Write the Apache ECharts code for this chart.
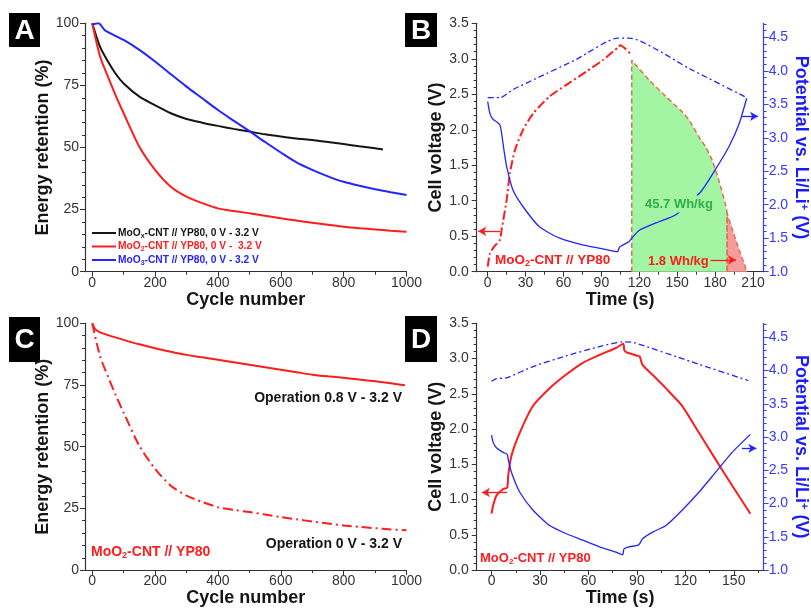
<!DOCTYPE html>
<html>
<head>
<meta charset="utf-8">
<script src="https://cdn.jsdelivr.net/npm/echarts@6/dist/echarts.min.js"></script>
<style>
  html, body { margin: 0; padding: 0; background: #fff; }
  #chart { width: 811px; height: 608px; }
</style>
</head>
<body>
<div id="chart"></div>
<script>
// ---------- Panel A: energy retention vs. cycle number ----------
const cyclesMoOx = [0, 25, 50, 75, 100, 150, 200, 250, 300, 350, 400, 450, 500, 550, 600, 650, 700, 750, 800, 850, 900, 925];
const retMoOx    = [100, 90.5, 84.6, 79.6, 75.8, 70.5, 67, 63.8, 61.5, 60, 58.7, 57.5, 56.4, 55.3, 54.4, 53.6, 53, 52.2, 51.4, 50.5, 49.7, 49.2];

const cyclesMoO2 = [0, 25, 50, 75, 100, 150, 200, 250, 300, 350, 400, 450, 500, 550, 600, 650, 700, 750, 800, 850, 900, 950, 1000];
const retMoO2    = [100, 86.6, 78.5, 70.8, 63.8, 50.3, 41, 34.2, 30.2, 27.6, 25.5, 24.4, 23.5, 22.5, 21.5, 20.6, 19.7, 18.9, 18.1, 17.5, 17, 16.5, 16.1];

const cyclesMoO3 = [0, 20, 40, 60, 100, 150, 200, 250, 300, 350, 400, 450, 500, 550, 600, 650, 700, 750, 800, 850, 900, 950, 1000];
const retMoO3    = [99.5, 100, 97.2, 95.8, 93.3, 89.3, 84.6, 79.5, 74.5, 69.8, 65.1, 60.8, 56.6, 52.2, 48, 44, 41, 38.4, 36.2, 34.6, 33.2, 32, 30.9];

// ---------- Panel C: MoO2-CNT // YP80 at two voltage windows ----------
const cyclesWide = [0, 10, 25, 50, 100, 150, 200, 250, 300, 350, 400, 450, 500, 550, 600, 650, 700, 750, 800, 850, 900, 950, 995];
const retWide    = [100, 97.5, 96.3, 95.2, 93.3, 91.5, 89.9, 88.5, 87.2, 86.2, 85.2, 84.2, 83.2, 82.2, 81.2, 80.2, 79.2, 78.5, 77.9, 77.2, 76.5, 75.7, 74.9];
const cyclesFull = cyclesMoO2;
const retFull    = retMoO2;

// ---------- Panel B: 0 V - 3.2 V cycle, [time s, volts] ----------
const cellChargeB = [[0, 0.07], [1.8, 0.26], [5, 0.35], [9.7, 0.45], [11, 0.59], [15, 1.01], [17.6, 1.39], [21.5, 1.71],
  [28, 2.0], [36, 2.23], [49, 2.47], [62, 2.63], [78, 2.82], [91, 2.98], [103.7, 3.17], [105, 3.19], [114, 3.05]];
const cellDischargeHighB = [[114, 0], [114, 2.98], [127.8, 2.70], [140.9, 2.47], [154.1, 2.25], [159.3, 2.14],
  [167.2, 1.90], [172.4, 1.76], [177.7, 1.57], [182.9, 1.29], [189.5, 0.82], [189.5, 0]];
const cellDischargeLowB = [[189.5, 0], [189.5, 0.82], [197, 0.41], [205.2, 0]];
const positiveB = [[0, 3.60], [10, 3.60], [20, 3.72], [40, 3.90], [70, 4.17], [103, 4.49], [112, 4.49], [160, 4.03], [205, 3.60]];
const negativeB = [[0, 3.54], [1.8, 3.36], [4, 3.28], [7, 3.24], [9.7, 3.19], [11, 3.07], [13, 2.80], [15, 2.57], [20, 2.22],
  [28, 1.97], [41, 1.67], [57, 1.50], [75, 1.40], [94, 1.33], [103, 1.30], [103.5, 1.30], [104.5, 1.37], [112, 1.45],
  [114, 1.50], [120, 1.62], [136, 1.75], [149, 1.85], [168.5, 2.19], [180, 2.52], [191, 2.87], [199, 3.21], [205, 3.59]];
const energyHigh = '45.7 Wh/kg';
const energyLow  = '1.8 Wh/kg';

// ---------- Panel D: 0.8 V - 3.2 V cycle, [time s, volts] ----------
const cellD = [[0, 0.80], [1, 0.92], [3.1, 1.06], [7.2, 1.15], [9.7, 1.17], [10.3, 1.34], [12.3, 1.62], [17.5, 1.95],
  [25.7, 2.33], [36, 2.58], [46, 2.77], [56.5, 2.94], [66.8, 3.05], [77, 3.15], [81.6, 3.21], [82.2, 3.12], [83.5, 3.09],
  [90.4, 3.04], [91.8, 3.03], [93.5, 2.91], [99.7, 2.77], [107.9, 2.58], [118, 2.33], [128.4, 1.95], [138.7, 1.57],
  [149, 1.20], [160.3, 0.80]];
const positiveD = [[0, 3.84], [3.1, 3.88], [9.2, 3.89], [25.7, 4.06], [46, 4.22], [66.8, 4.36], [81, 4.43], [88, 4.42],
  [124, 4.13], [159, 3.85]];
const negativeD = [[0, 3.03], [1, 2.92], [3, 2.84], [7.2, 2.77], [9.7, 2.74], [10.3, 2.67], [12.3, 2.47], [17.5, 2.17],
  [25.7, 1.90], [36, 1.67], [46, 1.55], [56.5, 1.45], [66.8, 1.35], [77, 1.27], [81.2, 1.23], [82, 1.32], [85.2, 1.35],
  [90.4, 1.37], [91.8, 1.40], [93.5, 1.47], [99.7, 1.57], [108, 1.67], [118, 1.90], [128.4, 2.17], [138.7, 2.47],
  [149, 2.77], [160.3, 3.04]];

// ---------- tick labels ----------
const ticksCycle = [0, 200, 400, 600, 800, 1000];
const ticksRet   = [0, 25, 50, 75, 100];
const ticksTimeB = [0, 30, 60, 90, 120, 150, 180, 210];
const ticksTimeD = [0, 30, 60, 90, 120, 150];
const ticksCell  = [0, 0.5, 1, 1.5, 2, 2.5, 3, 3.5];
const ticksPot   = [1, 1.5, 2, 2.5, 3, 3.5, 4, 4.5];

// ---------- styling ----------
const FONT = 'Liberation Sans';
const RED = '#ff1c1c', BLUE = '#2424ff', BLACK = '#151515', AXIS = '#333333', AXIS_BLUE = '#3838ff';
const GREEN_FILL = '#a3f5a3', RED_FILL = '#f59c9c', EDGE = '#e0704c', GREEN_TEXT = '#2fae4c';
const DASHDOT = [9, 3, 2, 3];
const DASHDOT_THIN = [6, 3, 2, 3];

const pairs = (xs, ys) => xs.map((x, i) => [x, ys[i]]);
const nameStyle = (color) => ({ fontSize: 18, fontWeight: 'bold', fontFamily: FONT, color: color });
const plain = (v) => String(v);
const fmt1 = (v) => v.toFixed(1);

function xAxisCfg(gridIndex, min, max, step, ticks, minorSplit, name) {
  return {
    type: 'value', gridIndex, min, max,
    splitNumber: Math.round((max - min) / step), minInterval: step, maxInterval: step,
    name, nameLocation: 'middle', nameGap: 15, nameTextStyle: nameStyle(BLACK),
    axisLine: { show: true, onZero: false, lineStyle: { color: AXIS, width: 1.2 } },
    axisTick: { show: true, length: 5, customValues: ticks, lineStyle: { color: AXIS, width: 1 } },
    minorTick: { show: true, splitNumber: minorSplit, length: 3, lineStyle: { color: AXIS, width: 1 } },
    axisLabel: { customValues: ticks, margin: 4, fontSize: 14, color: '#333', fontFamily: FONT, formatter: plain },
    splitLine: { show: false }
  };
}

function yAxisCfg(gridIndex, min, max, step, ticks, minorSplit, name, opts) {
  const o = opts || {};
  const col = o.color || AXIS;
  return {
    type: 'value', gridIndex, min, max, interval: step, position: o.position || 'left',
    name, nameLocation: 'middle', nameGap: o.nameGap, nameRotate: o.nameRotate,
    nameTextStyle: Object.assign(nameStyle(o.nameColor || BLACK), o.rich ? { rich: o.rich } : {}),
    axisLine: { show: true, onZero: false, lineStyle: { color: col, width: 1.2 } },
    axisTick: { show: true, length: 5, customValues: ticks, lineStyle: { color: col, width: 1 } },
    minorTick: { show: true, splitNumber: minorSplit, length: 3, lineStyle: { color: col, width: 1 } },
    axisLabel: { customValues: ticks, margin: o.margin || 6, fontSize: 14, color: o.labelColor || '#333', fontFamily: FONT,
      formatter: o.fmt || plain },
    splitLine: { show: false }
  };
}

const potRich = {
  m: { fontSize: 18, fontWeight: 'bold', fontFamily: FONT, color: '#1a1aff' },
  sup: { fontSize: 11, fontWeight: 'bold', fontFamily: FONT, color: '#1a1aff', verticalAlign: 'top' }
};
const potName = '{m|Potential vs. Li/Li}{sup|+}{m| (V)}';

// helper for an arrow drawn in data space
function arrow(from, to, color) {
  return {
    silent: true, symbol: ['none', 'arrow'], symbolSize: [7, 8], animation: false,
    label: { show: false },
    lineStyle: { color: color, width: 1.3, type: 'solid' },
    emphasis: { disabled: true },
    data: [[{ coord: from }, { coord: to }]]
  };
}

const LEG = 10.2;
const legendRich = {};
[['k', BLACK], ['r', RED], ['b', BLUE]].forEach(([key, col]) => {
  legendRich[key] = { color: col, fontSize: LEG, fontWeight: 'bold', fontFamily: FONT, verticalAlign: 'middle', lineHeight: 13 };
  legendRich[key + 's'] = { color: col, fontSize: 7, fontWeight: 'bold', fontFamily: FONT, verticalAlign: 'bottom', lineHeight: 7 };
});
const legendText = {
  'MoOx': '{k|MoO}{ks|x}{k|-CNT // YP80, 0 V - 3.2 V}',
  'MoO2': '{r|MoO}{rs|2}{r|-CNT // YP80, 0 V -  3.2 V}',
  'MoO3': '{b|MoO}{bs|3}{b|-CNT // YP80, 0 V - 3.2 V}'
};

function panelBox(x, y, w, h, letter) {
  return {
    type: 'group', x: x, y: y, z: 50,
    children: [
      { type: 'rect', shape: { x: 0, y: 0, width: w, height: h }, style: { fill: '#000' } },
      { type: 'text', x: w / 2, y: h / 2 + 1, style: { text: letter, fill: '#fff', font: 'bold 28px "' + FONT + '"',
        align: 'center', verticalAlign: 'middle' } }
    ]
  };
}

function richText(x, y, text, rich, align, extra) {
  return {
    type: 'text', x: x, y: y, z: 60,
    style: Object.assign({ text: text, rich: rich, align: align || 'left', verticalAlign: 'middle' }, (extra || {}))
  };
}
const tagRich = (size, color) => ({
  a: { fontSize: size, fontWeight: 'bold', fontFamily: FONT, fill: color, verticalAlign: 'middle', lineHeight: size + 2 },
  s: { fontSize: Math.round(size * 0.65), fontWeight: 'bold', fontFamily: FONT, fill: color, verticalAlign: 'bottom',
    lineHeight: Math.round(size * 0.6) }
});
const tagLabel = '{a|MoO}{s|2}{a|-CNT // YP80}';

const chart = echarts.init(document.getElementById('chart'), null, { renderer: 'canvas' });

const curveA = { type: 'line', xAxisIndex: 0, yAxisIndex: 0, smooth: 0.25, showSymbol: false };

chart.setOption({
  animation: false,
  backgroundColor: '#fff',
  grid: [
    { left: 85, top: 23.3, width: 321.5, height: 248.4 },
    { left: 476.7, top: 23.3, width: 288.3, height: 248.4 },
    { left: 85, top: 323.3, width: 321.5, height: 248.4 },
    { left: 476.7, top: 323.3, width: 288.3, height: 248.4 }
  ],
  xAxis: [
    xAxisCfg(0, -23, 1000, 200, ticksCycle, 2, 'Cycle number'),
    xAxisCfg(1, -8.7, 218.4, 30, ticksTimeB, 2, 'Time (s)'),
    xAxisCfg(2, -23, 1000, 200, ticksCycle, 2, 'Cycle number'),
    xAxisCfg(3, -9.2, 168.5, 30, ticksTimeD, 2, 'Time (s)')
  ],
  yAxis: [
    yAxisCfg(0, 0, 100, 25, ticksRet, 5, 'Energy retention (%)', { nameGap: 25 }),
    yAxisCfg(1, 0, 3.5, 0.5, ticksCell, 5, 'Cell voltage (V)', { nameGap: 31, fmt: fmt1, margin: 8 }),
    yAxisCfg(1, 1, 4.71, 0.5, ticksPot, 5, potName, { position: 'right', nameGap: 25, nameRotate: -90, fmt: fmt1,
      color: AXIS_BLUE, labelColor: AXIS_BLUE, nameColor: '#1a1aff', rich: potRich, margin: 5 }),
    yAxisCfg(2, 0, 100, 25, ticksRet, 5, 'Energy retention (%)', { nameGap: 25 }),
    yAxisCfg(3, 0, 3.5, 0.5, ticksCell, 5, 'Cell voltage (V)', { nameGap: 31, fmt: fmt1, margin: 8 }),
    yAxisCfg(3, 1, 4.71, 0.5, ticksPot, 5, potName, { position: 'right', nameGap: 25, nameRotate: -90, fmt: fmt1,
      color: AXIS_BLUE, labelColor: AXIS_BLUE, nameColor: '#1a1aff', rich: potRich, margin: 5 })
  ],
  legend: {
    left: 87, top: 223, orient: 'vertical', itemGap: 2, itemWidth: 24, itemHeight: 2,
    selectedMode: false,
    data: [
      { name: 'MoOx', icon: 'rect', itemStyle: { color: BLACK } },
      { name: 'MoO2', icon: 'rect', itemStyle: { color: RED } },
      { name: 'MoO3', icon: 'rect', itemStyle: { color: BLUE } }
    ],
    formatter: (n) => legendText[n],
    textStyle: { rich: legendRich, padding: [0, 0, 0, -3] }
  },
  series: [
    // Panel A
    Object.assign({ name: 'MoOx', data: pairs(cyclesMoOx, retMoOx), lineStyle: { color: BLACK, width: 2 },
      itemStyle: { color: BLACK } }, curveA),
    Object.assign({ name: 'MoO2', data: pairs(cyclesMoO2, retMoO2), lineStyle: { color: RED, width: 2 },
      itemStyle: { color: RED } }, curveA),
    Object.assign({ name: 'MoO3', data: pairs(cyclesMoO3, retMoO3), lineStyle: { color: BLUE, width: 2 },
      itemStyle: { color: BLUE } }, curveA),

    // Panel B: shaded discharge energies
    { name: 'B high', type: 'line', xAxisIndex: 1, yAxisIndex: 1, data: cellDischargeHighB, smooth: 0.15,
      showSymbol: false, lineStyle: { color: EDGE, width: 1.5, type: [5, 3] }, areaStyle: { color: GREEN_FILL, opacity: 1 } },
    { name: 'B low', type: 'line', xAxisIndex: 1, yAxisIndex: 1, data: cellDischargeLowB,
      showSymbol: false, lineStyle: { color: EDGE, width: 1.5, type: [5, 3] }, areaStyle: { color: RED_FILL, opacity: 1 } },
    { name: 'B cell', type: 'line', xAxisIndex: 1, yAxisIndex: 1, data: cellChargeB, smooth: 0.2,
      showSymbol: false, lineStyle: { color: RED, width: 2, type: DASHDOT },
      markLine: arrow([9.7, 0.57], [-7.5, 0.57], RED) },
    { name: 'B pos', type: 'line', xAxisIndex: 1, yAxisIndex: 2, data: positiveB, smooth: 0.2,
      showSymbol: false, lineStyle: { color: BLUE, width: 1.3, type: DASHDOT_THIN },
      markLine: arrow([201.3, 3.32], [214, 3.32], BLUE) },
    { name: 'B neg', type: 'line', xAxisIndex: 1, yAxisIndex: 2, data: negativeB, smooth: 0.2,
      showSymbol: false, lineStyle: { color: BLUE, width: 1.3 } },
    { name: 'B low arrow', type: 'line', xAxisIndex: 1, yAxisIndex: 1, data: [], showSymbol: false,
      markLine: arrow([176.4, 0.165], [196.5, 0.165], RED) },

    // Panel C
    { name: 'C wide', type: 'line', xAxisIndex: 2, yAxisIndex: 3, data: pairs(cyclesWide, retWide), smooth: 0.25,
      showSymbol: false, lineStyle: { color: RED, width: 2 } },
    { name: 'C full', type: 'line', xAxisIndex: 2, yAxisIndex: 3, data: pairs(cyclesFull, retFull), smooth: 0.25,
      showSymbol: false, lineStyle: { color: RED, width: 2, type: [10, 4, 2, 4] } },

    // Panel D
    { name: 'D cell', type: 'line', xAxisIndex: 3, yAxisIndex: 4, data: cellD, smooth: 0.2,
      showSymbol: false, lineStyle: { color: RED, width: 2 },
      markLine: arrow([9.7, 1.10], [-6, 1.10], RED) },
    { name: 'D pos', type: 'line', xAxisIndex: 3, yAxisIndex: 5, data: positiveD, smooth: 0.2,
      showSymbol: false, lineStyle: { color: BLUE, width: 1.3, type: DASHDOT_THIN },
      markLine: arrow([155.1, 2.83], [164, 2.83], BLUE) },
    { name: 'D neg', type: 'line', xAxisIndex: 3, yAxisIndex: 5, data: negativeD, smooth: 0.2,
      showSymbol: false, lineStyle: { color: BLUE, width: 1.3 } }
  ],
  graphic: [
    panelBox(9, 13, 31, 34, 'A'),
    panelBox(405, 13, 32, 34, 'B'),
    panelBox(9, 317, 31, 45, 'C'),
    panelBox(405, 316, 32, 46, 'D'),
    richText(495, 260, tagLabel, tagRich(13.5, RED)),
    richText(643, 204, '{a|' + energyHigh + '}', tagRich(13, GREEN_TEXT), 'left',
      { backgroundColor: GREEN_FILL, padding: [1, 2, 1, 2] }),
    richText(648, 261, '{a|' + energyLow + '}', tagRich(13, RED)),
    richText(402, 398, '{a|Operation 0.8 V - 3.2 V}', tagRich(14, BLACK), 'right'),
    richText(402, 544, '{a|Operation 0 V - 3.2 V}', tagRich(14, BLACK), 'right'),
    richText(91, 552, tagLabel, tagRich(14, RED)),
    richText(480, 558, tagLabel, tagRich(13, RED))
  ]
});
</script>
</body>
</html>
